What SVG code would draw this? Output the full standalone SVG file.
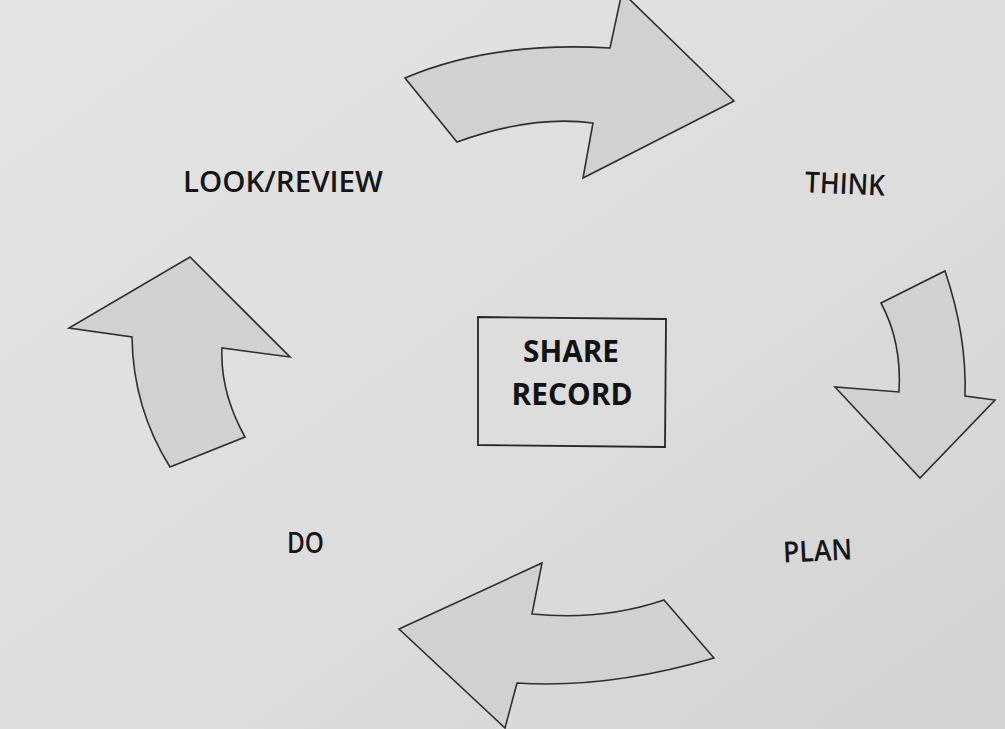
<svg xmlns="http://www.w3.org/2000/svg" width="1005" height="729" viewBox="0 0 1005 729">
  <defs>
    <linearGradient id="paper" x1="0" y1="0" x2="1" y2="1">
      <stop offset="0" stop-color="#e4e4e4"/>
      <stop offset="0.6" stop-color="#dcdcdc"/>
      <stop offset="1" stop-color="#d2d2d2"/>
    </linearGradient>
    <style>
      .arrow { fill: #d1d1d1; stroke: #2e2e2e; stroke-width: 1.6; stroke-linejoin: miter; }
      .label { font-family: "Open Sans", "Liberation Sans", sans-serif; font-size: 29px; fill: #161616; font-weight: 600; }
      .core { font-family: "Open Sans", "Liberation Sans", sans-serif; font-size: 31px; fill: #121212; font-weight: 700; text-anchor: middle; }
      .box { fill: none; stroke: #262626; stroke-width: 1.8; }
    </style>
  </defs>

  <rect x="0" y="0" width="1005" height="729" fill="url(#paper)"/>

  <!-- cycle arrows -->
  <g id="connectors">
    <!-- LOOK/REVIEW to THINK -->
    <path id="arrow-top" class="arrow" d="M405,78 Q492,41 610,48 L622,-8 L734,101 L583,178 L593,123 Q531,115 457,142 Z"/>
    <!-- THINK to PLAN -->
    <path id="arrow-right" class="arrow" d="M881,303 L945,271 Q967,336 965,396 L995,400 L920,478 L835,387 L899,392 Q902,342 881,303 Z"/>
    <!-- PLAN to DO -->
    <path id="arrow-bottom" class="arrow" d="M664,600 L714,658 Q608,689 517,683 L505,728 L399,629 L542,563 L532,614 Q602,621 664,600 Z"/>
    <!-- DO to LOOK/REVIEW -->
    <path id="arrow-left" class="arrow" d="M170,467 L245,437 Q220,392 222,348 L290,357 L190,257 L69,328 L132,337 Q133,408 170,467 Z"/>
  </g>

  <g id="node-look-review">
    <text class="label" x="183" y="192" textLength="200" lengthAdjust="spacingAndGlyphs">LOOK/REVIEW</text>
  </g>

  <g id="node-think">
    <text class="label" x="805" y="194" textLength="80" lengthAdjust="spacingAndGlyphs" transform="rotate(2.5 845 184)">THINK</text>
  </g>

  <g id="node-plan">
    <text class="label" x="783" y="561" font-size="28" textLength="69" lengthAdjust="spacingAndGlyphs" transform="rotate(-2.5 817 551)">PLAN</text>
  </g>

  <g id="node-do">
    <text class="label" x="287" y="553" font-size="28" textLength="37" lengthAdjust="spacingAndGlyphs">DO</text>
  </g>

  <g id="node-share-record">
    <path class="box" d="M478,317 L666,319 L665,447 L478,445 Z"/>
    <text class="core" x="571" y="362" textLength="96" lengthAdjust="spacingAndGlyphs">SHARE</text>
    <text class="core" x="572" y="405" textLength="121" lengthAdjust="spacingAndGlyphs">RECORD</text>
  </g>
</svg>
